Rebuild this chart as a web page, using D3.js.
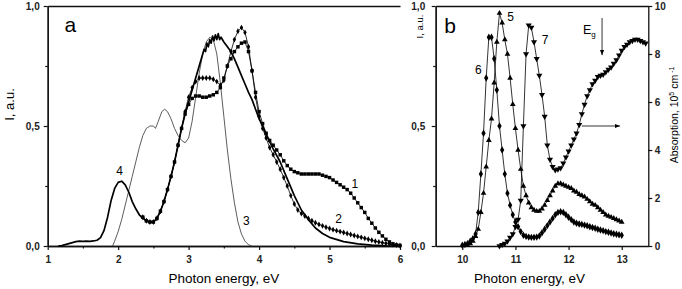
<!DOCTYPE html>
<html>
<head>
<meta charset="utf-8">
<script src="https://cdn.jsdelivr.net/npm/d3@7"></script>
<style>
  body { margin: 0; background: #fff; }
  text { font-family: Arial, "Liberation Sans", sans-serif; }
</style>
</head>
<body>
<script>

// ---- panel a ----
// curves 1 and 2 are read every 0.05 eV starting at 2.35 eV
let gridA = {start: 2.35, step: 0.05};

let curve1 = [0.12, 0.105, 0.10, 0.10, 0.115, 0.145, 0.185, 0.235, 0.29, 0.35,
              0.42, 0.49, 0.55, 0.59, 0.615, 0.625, 0.625, 0.62, 0.62, 0.625,
              0.63, 0.64, 0.66, 0.70, 0.75, 0.78, 0.81, 0.83, 0.845, 0.85,
              0.81, 0.73, 0.64, 0.56, 0.51, 0.47, 0.44, 0.42, 0.40, 0.38,
              0.355, 0.335, 0.32, 0.31, 0.305, 0.30, 0.30, 0.30, 0.30, 0.30,
              0.30, 0.295, 0.29, 0.285, 0.275, 0.265, 0.255, 0.245, 0.235, 0.22,
              0.20, 0.18, 0.16, 0.14, 0.115, 0.095, 0.075, 0.057, 0.042, 0.028,
              0.017, 0.009, 0.004, 0.002];

let curve2 = [0.12, 0.105, 0.10, 0.10, 0.115, 0.145, 0.185, 0.235, 0.29, 0.35,
              0.42, 0.49, 0.56, 0.62, 0.66, 0.685, 0.70, 0.70, 0.70, 0.70,
              0.695, 0.685, 0.67, 0.69, 0.75, 0.81, 0.86, 0.895, 0.91, 0.89,
              0.83, 0.73, 0.62, 0.54, 0.49, 0.45, 0.41, 0.38, 0.35, 0.32,
              0.285, 0.25, 0.21, 0.175, 0.15, 0.135, 0.125, 0.115, 0.105, 0.097,
              0.09, 0.084, 0.078, 0.073, 0.068, 0.064, 0.06, 0.056, 0.052, 0.048,
              0.044, 0.04, 0.036, 0.032, 0.028, 0.024, 0.02, 0.017, 0.014, 0.011,
              0.008, 0.006, 0.004, 0.002];

// thin grey curve 3, [eV, I]
let curve3 = [[1.92, 0], [1.95, 0.02], [2.0, 0.06], [2.05, 0.11], [2.1, 0.17], [2.15, 0.23],
              [2.2, 0.29], [2.25, 0.35], [2.3, 0.41], [2.35, 0.46], [2.4, 0.49], [2.45, 0.50],
              [2.5, 0.50], [2.53, 0.49], [2.57, 0.52], [2.62, 0.56], [2.66, 0.57], [2.7, 0.56],
              [2.75, 0.53], [2.8, 0.49], [2.85, 0.46], [2.9, 0.44], [2.95, 0.43], [3.0, 0.45],
              [3.05, 0.52], [3.1, 0.62], [3.15, 0.72], [3.2, 0.80], [3.25, 0.85], [3.3, 0.87],
              [3.35, 0.86], [3.4, 0.80], [3.45, 0.68], [3.5, 0.54], [3.55, 0.40], [3.6, 0.28],
              [3.65, 0.18], [3.7, 0.10], [3.75, 0.05], [3.8, 0.02], [3.85, 0.005], [3.9, 0]];

// thick black curve 4, [eV, I]
let curve4 = [[1.15, 0], [1.2, 0.002], [1.25, 0.006], [1.3, 0.01], [1.35, 0.014], [1.4, 0.018],
              [1.45, 0.02], [1.5, 0.019], [1.55, 0.02], [1.6, 0.019], [1.65, 0.021], [1.7, 0.024],
              [1.75, 0.035], [1.8, 0.065], [1.85, 0.12], [1.9, 0.19], [1.95, 0.24], [2.0, 0.265],
              [2.05, 0.27], [2.1, 0.255], [2.15, 0.225], [2.2, 0.185], [2.25, 0.155], [2.3, 0.13],
              [2.35, 0.115], [2.4, 0.105], [2.45, 0.10], [2.5, 0.10], [2.55, 0.115], [2.6, 0.145],
              [2.65, 0.185], [2.7, 0.235], [2.75, 0.29], [2.8, 0.35], [2.85, 0.42], [2.9, 0.49],
              [2.95, 0.55], [3.0, 0.60], [3.05, 0.65], [3.1, 0.70], [3.15, 0.75], [3.2, 0.80],
              [3.22, 0.82], [3.24, 0.81], [3.26, 0.845], [3.28, 0.83], [3.3, 0.86], [3.32, 0.845],
              [3.34, 0.875], [3.36, 0.855], [3.38, 0.88], [3.4, 0.86], [3.42, 0.885], [3.44, 0.86],
              [3.46, 0.87], [3.5, 0.85], [3.55, 0.83], [3.6, 0.81], [3.65, 0.78], [3.7, 0.745],
              [3.75, 0.71], [3.8, 0.675], [3.85, 0.64], [3.9, 0.61], [3.95, 0.57], [4.0, 0.53],
              [4.05, 0.50], [4.1, 0.465], [4.2, 0.405], [4.3, 0.35], [4.4, 0.28], [4.5, 0.21],
              [4.6, 0.15], [4.7, 0.11], [4.8, 0.075], [4.9, 0.052], [5.0, 0.036], [5.2, 0.018],
              [5.4, 0.009], [5.6, 0.004], [5.8, 0.001], [6.0, 0]];

// ---- panel b ----, every 0.05 eV
let start5 = 10.1;
let curve5 = [0.003, 0.01, 0.02, 0.04, 0.07, 0.14, 0.22, 0.33, 0.44, 0.53,
              0.68, 0.85, 0.97, 0.93, 0.86, 0.80, 0.70, 0.59, 0.49, 0.40,
              0.32, 0.25, 0.21, 0.18, 0.16, 0.15, 0.145, 0.145, 0.155, 0.17,
              0.19, 0.21, 0.23, 0.25, 0.26, 0.26, 0.255, 0.25, 0.245, 0.24,
              0.23, 0.225, 0.215, 0.21, 0.205, 0.195, 0.185, 0.175, 0.17, 0.16,
              0.15, 0.14, 0.13, 0.125, 0.12, 0.115, 0.11, 0.105, 0.10];

let start6 = 10.0;
let curve6 = [0.003, 0.006, 0.01, 0.02, 0.03, 0.05, 0.14, 0.30, 0.47, 0.70,
              0.87, 0.87, 0.78, 0.65, 0.50, 0.40, 0.30, 0.22, 0.17, 0.13,
              0.10, 0.08, 0.06, 0.045, 0.04, 0.037, 0.036, 0.036, 0.037, 0.042,
              0.055, 0.07, 0.085, 0.10, 0.115, 0.13, 0.14, 0.143, 0.14, 0.13,
              0.12, 0.11, 0.10, 0.095, 0.092, 0.09, 0.087, 0.084, 0.08, 0.077,
              0.074, 0.07, 0.067, 0.064, 0.06, 0.057, 0.054, 0.051, 0.049, 0.047,
              0.045];

// absorption, right axis (10^5 cm^-1)
let start7 = 10.7;
let curve7 = [0.0, 0.05, 0.1, 0.2, 0.35, 0.5, 0.8, 1.1, 1.9, 5.0,
              8.0, 9.2, 9.1, 8.5, 7.8, 7.1, 6.3, 5.4, 4.2, 3.6,
              3.3, 3.17, 3.2, 3.25, 3.45, 3.7, 3.95, 4.2, 4.45, 4.7,
              5.05, 5.5, 5.9, 6.25, 6.5, 6.75, 6.9, 7.05, 7.1, 7.15,
              7.25, 7.35, 7.45, 7.6, 7.75, 7.95, 8.15, 8.3, 8.4, 8.5,
              8.55, 8.6, 8.6, 8.55, 8.5, 8.45];

let ticksXA = [1, 2, 3, 4, 5, 6];
let minorXA = [1.5, 2.5, 3.5, 4.5, 5.5];
let ticksI = [0, 0.5, 1];
let minorI = [0.25, 0.75];
let ticksXB = [10, 11, 12, 13];
let ticksAbs = [0, 2, 4, 6, 8, 10];

let labelsA = [{t: '1', e: 5.36, v: 0.24}, {t: '2', e: 5.13, v: 0.097},
               {t: '3', e: 3.82, v: 0.0875}, {t: '4', e: 2.02, v: 0.296}];
let labelsB = [{t: '6', e: 10.3, v: 0.717}, {t: '5', e: 10.91, v: 0.9375},
               {t: '7', e: 11.56, v: 0.842}];

let W = 682, H = 289;
let frameA = {left: 47.7, right: 400, top: 6, bottom: 246};
let frameB = {left: 435.7, right: 648.3, top: 6, bottom: 246};

let svg = d3.select('body').append('svg')
    .attr('width', W)
    .attr('height', H);

svg.append('rect').attr('width', W).attr('height', H).attr('fill', '#fff');

let xA = d3.scaleLinear().domain([1, 6]).range([frameA.left, frameA.right]);
let yA = d3.scaleLinear().domain([0, 1]).range([frameA.bottom, frameA.top]);
let xB = d3.scaleLinear().domain([9.5, 13.5]).range([frameB.left, frameB.right]);
let yB = d3.scaleLinear().domain([0, 1]).range([frameB.bottom, frameB.top]);
let yAbs = d3.scaleLinear().domain([0, 10]).range([frameB.bottom, frameB.top]);

let commaFmt = d => d3.format('.1f')(d).replace('.', ',');

function onGrid(values, start, step) {
  return values.map((v, i) => [start + i * step, v]);
}

function styleAxis(g) {
  g.attr('font-family', 'Arial, "Liberation Sans", sans-serif')
    .attr('font-size', 10)
    .attr('font-weight', 'bold');
  g.select('.domain').attr('stroke', '#111').attr('stroke-width', 1.3);
  g.selectAll('.tick line').attr('stroke', '#111').attr('stroke-width', 1.2);
  g.selectAll('.tick text').attr('fill', '#222');
}

// ---------- axes, panel a
svg.append('g')
    .attr('transform', 'translate(0,' + frameA.bottom + ')')
    .call(d3.axisBottom(xA).tickValues(ticksXA).tickFormat(d3.format('d'))
      .tickSize(4).tickSizeOuter(0).tickPadding(6))
    .call(styleAxis);
svg.append('g')
    .attr('transform', 'translate(0,' + frameA.bottom + ')')
    .call(d3.axisBottom(xA).tickValues(minorXA).tickFormat('').tickSize(2.5).tickSizeOuter(0))
    .call(styleAxis);
svg.append('g')
    .attr('transform', 'translate(' + frameA.left + ',0)')
    .call(d3.axisLeft(yA).tickValues(ticksI).tickFormat(commaFmt)
      .tickSize(4).tickSizeOuter(0).tickPadding(4))
    .call(styleAxis);
svg.append('g')
    .attr('transform', 'translate(' + frameA.left + ',0)')
    .call(d3.axisLeft(yA).tickValues(minorI).tickFormat('').tickSize(2.5).tickSizeOuter(0))
    .call(styleAxis);
svg.append('g')
    .attr('transform', 'translate(0,' + frameA.top + ')')
    .call(d3.axisTop(xA).tickValues([]).tickSizeOuter(0))
    .call(styleAxis);

// ---------- axes, panel b
svg.append('g')
    .attr('transform', 'translate(0,' + frameB.bottom + ')')
    .call(d3.axisBottom(xB).tickValues(ticksXB).tickFormat(d3.format('d'))
      .tickSize(4).tickSizeOuter(0).tickPadding(6))
    .call(styleAxis);
svg.append('g')
    .attr('transform', 'translate(' + frameB.left + ',0)')
    .call(d3.axisLeft(yB).tickValues(ticksI).tickFormat(commaFmt)
      .tickSize(4).tickSizeOuter(0).tickPadding(6.5))
    .call(styleAxis);
svg.append('g')
    .attr('transform', 'translate(' + frameB.left + ',0)')
    .call(d3.axisLeft(yB).tickValues(minorI).tickFormat('').tickSize(2.5).tickSizeOuter(0))
    .call(styleAxis);
svg.append('g')
    .attr('transform', 'translate(' + frameB.right + ',0)')
    .call(d3.axisRight(yAbs).tickValues(ticksAbs).tickFormat(d3.format('d'))
      .tickSize(4).tickSizeOuter(0).tickPadding(2.5))
    .call(styleAxis);
svg.append('g')
    .attr('transform', 'translate(0,' + frameB.top + ')')
    .call(d3.axisTop(xB).tickValues([]).tickSizeOuter(0))
    .call(styleAxis);

// ---------- curves
function drawCurve(points, x, y, opts) {
  let line = d3.line().x(d => x(d[0])).y(d => y(d[1]));
  svg.append('path')
      .datum(points)
      .attr('d', line)
      .attr('fill', 'none')
      .attr('stroke', opts.stroke || '#000')
      .attr('stroke-width', opts.width || 0.8)
      .attr('stroke-linejoin', 'round');
  if (opts.symbol) {
    let sym = d3.symbol().type(opts.symbol).size(opts.size);
    svg.append('g').selectAll('path')
        .data(points)
      .enter().append('path')
        .attr('d', sym)
        .attr('transform', d => 'translate(' + x(d[0]) + ',' + y(d[1]) + ')' +
              (opts.flip ? ' rotate(180)' : ''))
        .attr('fill', '#000');
  }
}

drawCurve(curve3, xA, yA, {stroke: '#4a4a4a', width: 0.9});
drawCurve(curve4, xA, yA, {stroke: '#000', width: 1.7});
drawCurve(onGrid(curve1, gridA.start, gridA.step), xA, yA,
          {width: 0.8, symbol: d3.symbolSquare, size: 12});
drawCurve(onGrid(curve2, gridA.start, gridA.step), xA, yA,
          {width: 0.8, symbol: d3.symbolDiamond, size: 10});

drawCurve(onGrid(curve6, start6, 0.05), xB, yB,
          {width: 0.8, symbol: d3.symbolDiamond, size: 16});
drawCurve(onGrid(curve5, start5, 0.05), xB, yB,
          {width: 0.8, symbol: d3.symbolTriangle, size: 14});
drawCurve(onGrid(curve7, start7, 0.05), xB, yAbs,
          {width: 0.8, symbol: d3.symbolTriangle, size: 16, flip: true});

// ---------- labels
svg.append('g').selectAll('text')
    .data(labelsA)
  .enter().append('text')
    .attr('x', d => xA(d.e))
    .attr('y', d => yA(d.v))
    .attr('text-anchor', 'middle')
    .attr('font-size', 12)
    .text(d => d.t);
svg.append('g').selectAll('text')
    .data(labelsB)
  .enter().append('text')
    .attr('x', d => xB(d.e))
    .attr('y', d => yB(d.v))
    .attr('text-anchor', 'middle')
    .attr('font-size', 12)
    .text(d => d.t);

svg.append('text').attr('x', xA(1.32)).attr('y', yA(0.89))
    .attr('text-anchor', 'middle').attr('font-size', 21).text('a');
svg.append('text').attr('x', xB(9.77)).attr('y', yB(0.8875))
    .attr('text-anchor', 'middle').attr('font-size', 21).text('b');

let eg = svg.append('text').attr('x', xB(12.27)).attr('y', yAbs(8.85))
    .attr('font-size', 12.5).text('E');
eg.append('tspan').attr('dy', 3).attr('font-size', 8).text('g');

// arrows
svg.append('defs').append('marker')
    .attr('id', 'head')
    .attr('viewBox', '0 0 10 10')
    .attr('refX', 10).attr('refY', 5)
    .attr('markerWidth', 7).attr('markerHeight', 7)
    .attr('orient', 'auto')
  .append('path')
    .attr('d', 'M0,1 L10,5 L0,9 Z')
    .attr('fill', '#000');

svg.append('line')
    .attr('x1', xB(12.63)).attr('x2', xB(12.63))
    .attr('y1', yAbs(9.5)).attr('y2', yAbs(7.95))
    .attr('stroke', '#000').attr('stroke-width', 0.8)
    .attr('marker-end', 'url(#head)');
svg.append('line')
    .attr('x1', xB(12.25)).attr('x2', xB(12.97))
    .attr('y1', yAbs(5)).attr('y2', yAbs(5))
    .attr('stroke', '#000').attr('stroke-width', 0.8)
    .attr('marker-end', 'url(#head)');

// axis titles
svg.append('text')
    .attr('x', (frameA.left + frameA.right) / 2).attr('y', 283)
    .attr('text-anchor', 'middle').attr('font-size', 13.5)
    .text('Photon energy, eV');
svg.append('text')
    .attr('x', 529.5).attr('y', 283)
    .attr('text-anchor', 'middle').attr('font-size', 13.5)
    .text('Photon energy, eV');

svg.append('text')
    .attr('transform', 'translate(14,104.5) rotate(-90)')
    .attr('text-anchor', 'middle').attr('font-size', 13)
    .text('I, a.u.');
svg.append('text')
    .attr('transform', 'translate(423,26.5) rotate(-90)')
    .attr('text-anchor', 'middle').attr('font-size', 9.5)
    .text('I, a.u.');

let abs = svg.append('text')
    .attr('transform', 'translate(678,115) rotate(-90)')
    .attr('text-anchor', 'middle').attr('font-size', 10.5)
    .text('Absorption, 10');
abs.append('tspan').attr('dy', -4).attr('font-size', 7).text('5');
abs.append('tspan').attr('dy', 4).text(' cm');
abs.append('tspan').attr('dy', -4).attr('font-size', 7).text(' -1');

</script>
</body>
</html>
